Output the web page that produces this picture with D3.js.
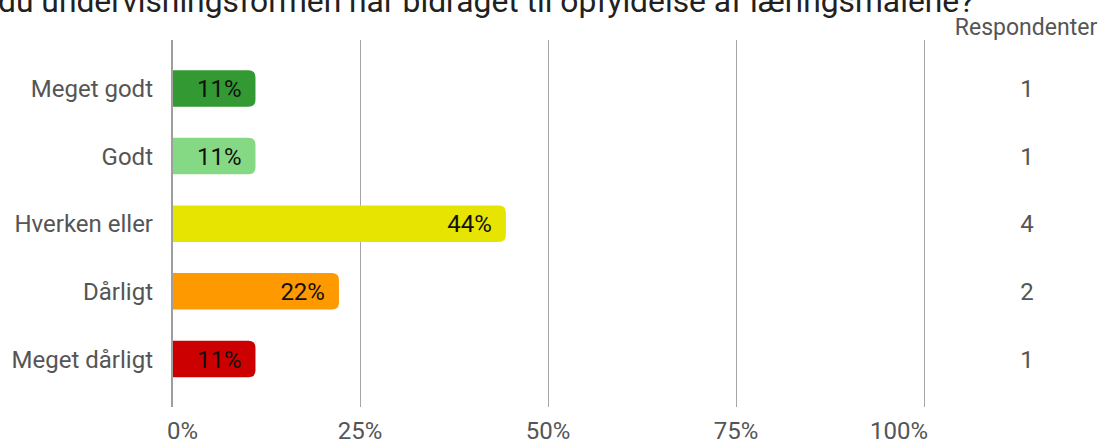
<!DOCTYPE html>
<html>
<head>
<meta charset="utf-8">
<script src="https://cdn.jsdelivr.net/npm/d3@7"></script>
<style>
  body { margin: 0; background: #fff; }
  text { font-family: Roboto, "Noto Sans", sans-serif; }
</style>
</head>
<body>
<div id="chart_box"></div>
<script>
// data
var categories = ["Meget godt", "Godt", "Hverken eller", "Dårligt", "Meget dårligt"];
var percents = [11.1, 11.1, 44.4, 22.2, 11.1];
var respondents = [1, 1, 4, 2, 1];
var barColors = ["#339933", "#85d985", "#e6e400", "#ff9900", "#cc0000"];
var xTicks = [0, 25, 50, 75, 100];
var titleText = "du undervisningsformen har bidraget til opfyldelse af læringsmålene?";

var width = 1104, height = 441;

var svg = d3.select("#chart_box").append("svg")
    .attr("width", width)
    .attr("height", height);

var x = d3.scaleLinear().domain([0, 100]).range([172, 924]);
var y = d3.scaleBand().domain(categories)
    .range([54.7, 392.7])
    .paddingInner(0.46)
    .paddingOuter(0.23);

var gridTop = 40, gridBottom = 407;

// title (cut off at top in the original)
svg.append("text")
    .attr("x", -2)
    .attr("y", 12)
    .style("font-size", "31.8px")
    .style("fill", "#212121")
    .text(titleText);

// gridlines
svg.append("g").attr("class", "grid")
  .selectAll("line").data(xTicks.slice(1)).enter()
  .append("line")
    .attr("x1", function(d) { return x(d) + 0.5; })
    .attr("x2", function(d) { return x(d) + 0.5; })
    .attr("y1", gridTop)
    .attr("y2", gridBottom)
    .style("stroke", "#a6a6a6")
    .style("stroke-width", 1);

// tick labels
svg.append("g").attr("class", "ticks")
  .selectAll("text").data(xTicks).enter()
  .append("text")
    .attr("x", function(d, i) {
      if (i == 0) return x(d) - 5;
      if (i == xTicks.length - 1) return x(d) + 4;
      return x(d);
    })
    .attr("y", 439)
    .attr("text-anchor", function(d, i) {
      if (i == 0) return "start";
      if (i == xTicks.length - 1) return "end";
      return "middle";
    })
    .style("font-size", "24px")
    .style("fill", "#555")
    .text(function(d) { return d + "%"; });

// bars with rounded right end
function barPath(d, i) {
  var x0 = x(0), x1 = x(percents[i]), y0 = y(d), h = y.bandwidth();
  var r = Math.min(7, (x1 - x0) / 2);
  return "M" + x0 + "," + y0 +
    "H" + (x1 - r) +
    "Q" + x1 + "," + y0 + " " + x1 + "," + (y0 + r) +
    "V" + (y0 + h - r) +
    "Q" + x1 + "," + (y0 + h) + " " + (x1 - r) + "," + (y0 + h) +
    "H" + x0 + "Z";
}

svg.append("g").attr("class", "bars")
  .selectAll("path").data(categories).enter()
  .append("path")
    .attr("d", barPath)
    .style("fill", function(d, i) { return barColors[i]; });

// value labels inside bars
svg.append("g").attr("class", "values")
  .selectAll("text").data(categories).enter()
  .append("text")
    .attr("x", function(d, i) { return x(percents[i]) - 14; })
    .attr("y", function(d) { return y(d) + y.bandwidth() / 2; })
    .attr("dy", "0.36em")
    .attr("text-anchor", "end")
    .style("font-size", "24px")
    .style("fill", "#111")
    .text(function(d, i) { return Math.round(percents[i]) + "%"; });

// zero axis line
svg.append("line")
    .attr("x1", x(0)).attr("x2", x(0))
    .attr("y1", gridTop).attr("y2", gridBottom)
    .style("stroke", "#9e9e9e")
    .style("stroke-width", 2);

// category labels
svg.append("g").attr("class", "cats")
  .selectAll("text").data(categories).enter()
  .append("text")
    .attr("x", 153)
    .attr("y", function(d) { return y(d) + y.bandwidth() / 2; })
    .attr("dy", "0.36em")
    .attr("text-anchor", "end")
    .style("font-size", "24px")
    .style("fill", "#555")
    .text(function(d) { return d; });

// respondent column
svg.append("text")
    .attr("x", 1026)
    .attr("y", 35)
    .attr("text-anchor", "middle")
    .style("font-size", "23px")
    .style("fill", "#555")
    .text("Respondenter");

svg.append("g").attr("class", "resp")
  .selectAll("text").data(categories).enter()
  .append("text")
    .attr("x", 1027)
    .attr("y", function(d) { return y(d) + y.bandwidth() / 2; })
    .attr("dy", "0.36em")
    .attr("text-anchor", "middle")
    .style("font-size", "24px")
    .style("fill", "#555")
    .text(function(d, i) { return respondents[i]; });
</script>
</body>
</html>
